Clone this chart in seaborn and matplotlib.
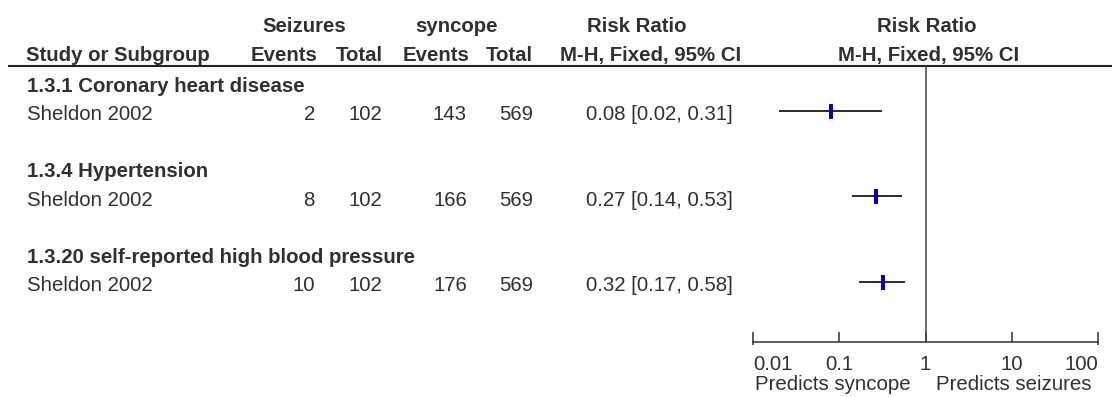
import numpy as np
import pandas as pd
import matplotlib
matplotlib.use("Agg")
import matplotlib.pyplot as plt
import seaborn as sns

# ---------------- data ----------------
groups = ["1.3.1 Coronary heart disease", "1.3.4 Hypertension",
          "1.3.20 self-reported high blood pressure"]
studies = ["Sheldon 2002", "Sheldon 2002", "Sheldon 2002"]
seiz_events = [2, 8, 10]
seiz_total = [102, 102, 102]
sync_events = [143, 166, 176]
sync_total = [569, 569, 569]
rr = [0.08, 0.27, 0.32]
rr_lo = [0.02, 0.14, 0.17]
rr_hi = [0.31, 0.53, 0.58]
tick_vals = [0.01, 0.1, 1, 10, 100]
tick_labels = ["0.01", "0.1", "1", "10", "100"]
left_label = "Predicts syncope"
right_label = "Predicts seizures"

# ---------------- style ----------------
sns.set_theme(style="white")
plt.rcParams["font.family"] = ["Liberation Sans", "DejaVu Sans"]
FS = 14.7
TXT = "#303030"
BLUE = "#0000C8"

W, H = 1113, 397
fig = plt.figure(figsize=(W / 100, H / 100), dpi=100)

# layout (pixels)
ROW0, PITCH = 82.5, 28.43       # row centre of first row, row pitch
BASE_OFF = 9.5                  # baseline offset below row centre
HDR_LINE = 66
AXIS_Y = 342
FX0, FX1 = 753, 1098

# text/table layer in pixel coordinates
tab = fig.add_axes([0, 0, 1, 1])
tab.set_xlim(0, W)
tab.set_ylim(H, 0)
tab.axis("off")

def txt(x, y, s, ha="left", bold=False, color=TXT):
    tab.text(x, y, s, ha=ha, va="baseline", fontsize=FS,
             fontweight="bold" if bold else "normal", color=color)

# headers
txt(304, 32, "Seizures", ha="center", bold=True)
txt(457, 32, "syncope", ha="center", bold=True)
txt(637, 32, "Risk Ratio", ha="center", bold=True)
txt(927, 32, "Risk Ratio", ha="center", bold=True)
txt(26, 61, "Study or Subgroup", bold=True)
txt(318, 61, "Events", ha="right", bold=True)
txt(383, 61, "Total", ha="right", bold=True)
txt(469, 61, "Events", ha="right", bold=True)
txt(533, 61, "Total", ha="right", bold=True)
txt(651, 61, "M-H, Fixed, 95% CI", ha="center", bold=True)
txt(929, 61, "M-H, Fixed, 95% CI", ha="center", bold=True)
tab.plot([8, 1112], [HDR_LINE, HDR_LINE], color="#222222", lw=1.5,
         solid_capstyle="butt")

group_rows = [0, 3, 6]
study_rows = [1, 4, 7]
for g, r in zip(groups, group_rows):
    txt(27, ROW0 + r * PITCH + BASE_OFF, g, bold=True)
for i, r in enumerate(study_rows):
    yb = ROW0 + r * PITCH + BASE_OFF
    txt(27, yb, studies[i])
    txt(315, yb, str(seiz_events[i]), ha="right")
    txt(382, yb, str(seiz_total[i]), ha="right")
    txt(467, yb, str(sync_events[i]), ha="right")
    txt(533, yb, str(sync_total[i]), ha="right")
    txt(659, yb, f"{rr[i]:.2f} [{rr_lo[i]:.2f}, {rr_hi[i]:.2f}]", ha="center")

# ---------------- forest axes ----------------
ax = fig.add_axes([FX0 / W, (H - AXIS_Y) / H, (FX1 - FX0) / W,
                   (AXIS_Y - HDR_LINE) / H])
ax.set_facecolor("none")
ax.set_xscale("log")
ax.set_xlim(0.01, 100)
y_top = (HDR_LINE - ROW0) / PITCH
y_bot = (AXIS_Y - ROW0) / PITCH
ax.set_ylim(y_bot, y_top)

df = pd.DataFrame({"rr": rr, "lo": rr_lo, "hi": rr_hi, "row": study_rows})
ax.hlines(df["row"], df["lo"], df["hi"], color="#1a1a1a", lw=1.3)
rect = [(-0.133, -0.5), (0.133, -0.5), (0.133, 0.5), (-0.133, 0.5)]
sns.scatterplot(data=df, x="rr", y="row", marker=rect, s=10.8 ** 2,
                color=BLUE, linewidth=0, ax=ax, legend=False, zorder=3)
ax.axvline(1, color="#444444", lw=1.1)

for side in ["top", "left", "right"]:
    ax.spines[side].set_visible(False)
ax.spines["bottom"].set_color("#333333")
ax.spines["bottom"].set_linewidth(1.1)
ax.set_yticks([])
ax.set_xticks(tick_vals)
ax.set_xticklabels(tick_labels)
ax.minorticks_off()
ax.tick_params(axis="x", which="major", bottom=True, direction="in",
               length=7.2, width=1.1, color="#333333", pad=9,
               labelsize=FS, labelcolor=TXT)
ax.set_xlabel("")
ax.set_ylabel("")
lbls = ax.get_xticklabels()
lbls[0].set_ha("left")
lbls[-1].set_ha("right")

# end caps of the scale extend slightly below the axis line
for xv in (tick_vals[0], tick_vals[-1]):
    ax.annotate("", xy=(xv, 0), xycoords=("data", "axes fraction"),
                xytext=(xv, 0), annotation_clip=False)
ax.plot([tick_vals[0], tick_vals[0]], [y_bot, y_bot + 0.12], color="#333333",
        lw=1.1, clip_on=False, solid_capstyle="butt")
ax.plot([tick_vals[-1], tick_vals[-1]], [y_bot, y_bot + 0.12], color="#333333",
        lw=1.1, clip_on=False, solid_capstyle="butt")

ax.annotate(left_label, xy=(1, 0), xycoords=("data", "axes fraction"),
            xytext=(-15, -48), textcoords="offset pixels", ha="right",
            va="baseline", fontsize=FS, color=TXT, annotation_clip=False)
ax.annotate(right_label, xy=(1, 0), xycoords=("data", "axes fraction"),
            xytext=(10, -48), textcoords="offset pixels", ha="left",
            va="baseline", fontsize=FS, color=TXT, annotation_clip=False)

fig.savefig("out.png", dpi=100, facecolor="white")
